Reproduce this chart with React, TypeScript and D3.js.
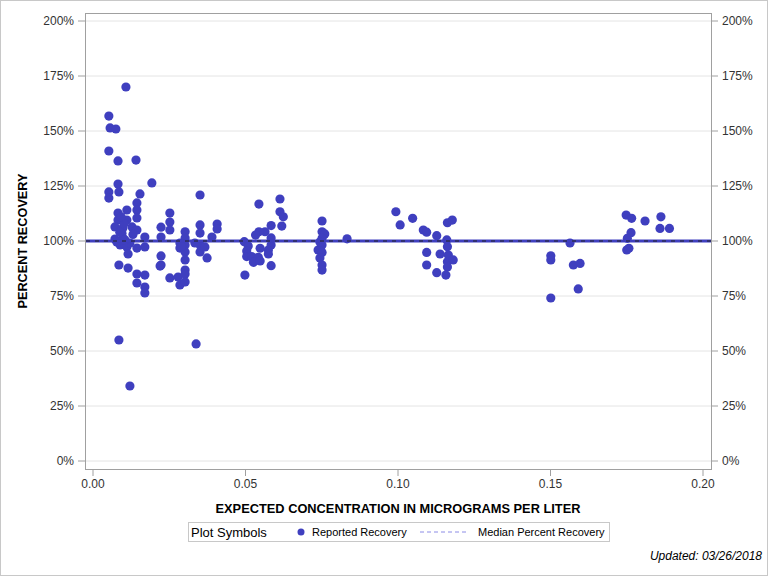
import React from "react";
import * as d3 from "d3";

// Expected concentration (micrograms per liter) for each sample
const concentration: number[] = [
  0.0052, 0.0052, 0.0052, 0.0052, 0.0056, 0.0075, 0.0082, 0.0082, 0.0082, 0.0082,
  0.0085, 0.0085, 0.0085, 0.0072, 0.0072, 0.0089, 0.0098, 0.0098, 0.0108, 0.0111,
  0.0111, 0.0111, 0.0115, 0.0115, 0.0121, 0.0121, 0.0128, 0.0141, 0.0144, 0.0144,
  0.0144, 0.0144, 0.0144, 0.0144, 0.0144, 0.0154, 0.0170, 0.0170, 0.0170, 0.0170,
  0.0170, 0.0193, 0.0095, 0.0102, 0.0088, 0.0078, 0.0092, 0.0105, 0.0131,
  0.0223, 0.0223, 0.0223, 0.0223, 0.0220, 0.0252, 0.0252, 0.0252, 0.0252, 0.0279,
  0.0285, 0.0285, 0.0285, 0.0302, 0.0302, 0.0302, 0.0302, 0.0302, 0.0302, 0.0302,
  0.0302, 0.0290, 0.0351, 0.0351, 0.0351, 0.0351, 0.0351, 0.0334, 0.0338, 0.0367,
  0.0374, 0.0390, 0.0407, 0.0407,
  0.0544, 0.0613, 0.0613, 0.0624, 0.0619, 0.0584, 0.0564, 0.0544, 0.0533, 0.0496,
  0.0509, 0.0584, 0.0584, 0.0575, 0.0548, 0.0504, 0.0504, 0.0520, 0.0542, 0.0526,
  0.0548, 0.0575, 0.0498, 0.0584,
  0.0751, 0.0751, 0.0760, 0.0751, 0.0751, 0.0738, 0.0751, 0.0744, 0.0751, 0.0751,
  0.0744, 0.0833,
  0.0993, 0.1007, 0.1048, 0.1083, 0.1094, 0.1127, 0.1162, 0.1178, 0.1160, 0.1162,
  0.1094, 0.1138, 0.1165, 0.1162, 0.1181, 0.1094, 0.1162, 0.1127, 0.1157,
  0.1501, 0.1501, 0.1501, 0.1564, 0.1575, 0.1597, 0.1591, 0.1748, 0.1766, 0.1810,
  0.1862, 0.1859, 0.1890, 0.1764, 0.1752, 0.1750, 0.1757,
];

// Reported percent recovery for each sample
const recovery: number[] = [
  156.8, 122.3, 119.5, 140.9, 151.4, 150.9, 136.4, 125.9, 112.7, 109.5,
  122.3, 89.1, 55.0, 106.4, 100.9, 98.2, 105.9, 101.4, 170.0, 114.1,
  109.5, 97.3, 94.1, 87.7, 99.1, 34.1, 106.4, 136.8, 117.3, 114.1,
  110.5, 105.0, 96.8, 85.0, 80.9, 121.4, 101.8, 97.3, 84.5, 79.1,
  76.4, 126.4, 103.5, 108.0, 104.0, 99.5, 111.0, 100.5, 103.0,
  106.3, 101.8, 93.2, 89.1, 88.6, 112.7, 108.6, 105.0, 83.2, 83.6,
  99.1, 96.8, 80.0, 104.2, 101.4, 98.2, 95.0, 91.4, 86.8, 85.0,
  81.4, 97.5, 120.9, 107.3, 103.6, 98.2, 95.0, 99.1, 53.2, 97.3,
  92.3, 101.8, 107.7, 105.5,
  116.8, 119.1, 113.3, 111.0, 106.8, 107.0, 104.2, 104.2, 102.7, 99.7,
  97.7, 101.4, 98.2, 95.9, 96.7, 95.5, 92.9, 92.9, 92.6, 90.3,
  90.9, 94.1, 84.5, 88.8,
  109.1, 104.2, 103.2, 101.2, 98.2, 95.9, 94.8, 92.3, 89.1, 86.8,
  99.5, 101.0,
  113.3, 107.3, 110.3, 105.0, 104.0, 102.4, 108.3, 109.5, 100.5, 97.4,
  94.8, 94.1, 93.6, 90.6, 91.4, 89.1, 88.2, 85.6, 84.5,
  93.3, 91.4, 74.1, 99.1, 89.1, 89.8, 78.2, 111.8, 110.3, 109.1,
  111.0, 105.7, 105.7, 103.8, 101.2, 95.9, 96.7,
];

const medianRecovery = 100;
const xTicks: number[] = [0, 0.05, 0.1, 0.15, 0.2];
const yTicks: number[] = [0, 25, 50, 75, 100, 125, 150, 175, 200];

const FONT = "'Liberation Sans', Arial, sans-serif";
const DOT = "#3f3fbf";

export default function App() {
  const frame = { left: 85, right: 711, top: 13, bottom: 469 };
  const x = d3.scaleLinear().domain([0, 0.2]).range([93, 703]);
  const y = d3.scaleLinear().domain([0, 200]).range([461, 21]);
  const points = concentration.map((c, i) => ({ c, r: recovery[i] }));

  return (
    <svg
      width={768}
      height={576}
      style={{ position: "absolute", left: 0, top: 0, background: "#fff" }}
      fontFamily={FONT}
    >
      <rect x={0.5} y={0.5} width={767} height={575} fill="#fff" stroke="#c8c8c8" />
      {/* gridlines */}
      {yTicks.map((t) => (
        <line key={"g" + t} x1={frame.left} x2={frame.right} y1={y(t)} y2={y(t)} stroke="#e4e4e4" />
      ))}
      {/* frame */}
      <rect
        x={frame.left + 0.5}
        y={frame.top + 0.5}
        width={frame.right - frame.left}
        height={frame.bottom - frame.top}
        fill="none"
        stroke="#a0a0a0"
      />
      {/* left y axis */}
      {yTicks.map((t) => (
        <g key={"yl" + t}>
          <line x1={78} x2={frame.left} y1={y(t)} y2={y(t)} stroke="#a0a0a0" />
          <text x={74} y={y(t)} dy="0.35em" textAnchor="end" fontSize={12} fill="#333">
            {t + "%"}
          </text>
        </g>
      ))}
      {/* right y axis */}
      {yTicks.map((t) => (
        <g key={"yr" + t}>
          <line x1={frame.right} x2={frame.right + 7} y1={y(t)} y2={y(t)} stroke="#a0a0a0" />
          <text x={722} y={y(t)} dy="0.35em" textAnchor="start" fontSize={12} fill="#333">
            {t + "%"}
          </text>
        </g>
      ))}
      {/* x axis */}
      {xTicks.map((t) => (
        <g key={"x" + t}>
          <line x1={x(t)} x2={x(t)} y1={frame.bottom} y2={frame.bottom + 7} stroke="#a0a0a0" />
          <text x={x(t)} y={488} textAnchor="middle" fontSize={12} fill="#333">
            {d3.format(".2f")(t)}
          </text>
        </g>
      ))}
      <text
        x={398}
        y={513}
        textAnchor="middle"
        fontSize={13}
        fontWeight="bold"
        fill="#000"
        textLength={365}
        lengthAdjust="spacingAndGlyphs"
      >
        EXPECTED CONCENTRATION IN MICROGRAMS PER LITER
      </text>
      <text
        transform="translate(27,241) rotate(-90)"
        textAnchor="middle"
        fontSize={13}
        fontWeight="bold"
        fill="#000"
        textLength={135}
        lengthAdjust="spacingAndGlyphs"
      >
        PERCENT RECOVERY
      </text>
      {/* points */}
      {points.map((p, i) => (
        <circle key={i} cx={x(p.c)} cy={y(p.r)} r={4.6} fill={DOT} />
      ))}
      {/* median line */}
      <line x1={frame.left + 1} x2={frame.right} y1={y(medianRecovery)} y2={y(medianRecovery)} stroke={DOT} strokeWidth={3} />
      <line
        x1={frame.left + 1}
        x2={frame.right}
        y1={y(medianRecovery)}
        y2={y(medianRecovery)}
        stroke="#222"
        strokeWidth={1.2}
        strokeDasharray="4,5"
      />
      {/* legend */}
      <rect x={188.5} y={522.5} width={421} height={19} fill="#fff" stroke="#c8c8c8" />
      <text x={191} y={536.5} fontSize={13} fill="#000">Plot Symbols</text>
      <circle cx={301} cy={532} r={3.5} fill={DOT} />
      <text x={312} y={536} fontSize={11} fill="#000">Reported Recovery</text>
      <line x1={420} x2={467} y1={532} y2={532} stroke="#8c8ce6" strokeDasharray="4,3" />
      <text x={478} y={536} fontSize={11} fill="#000">Median Percent Recovery</text>
      <text x={762} y={560} textAnchor="end" fontSize={12} fontStyle="italic" fill="#000">
        Updated: 03/26/2018
      </text>
    </svg>
  );
}
